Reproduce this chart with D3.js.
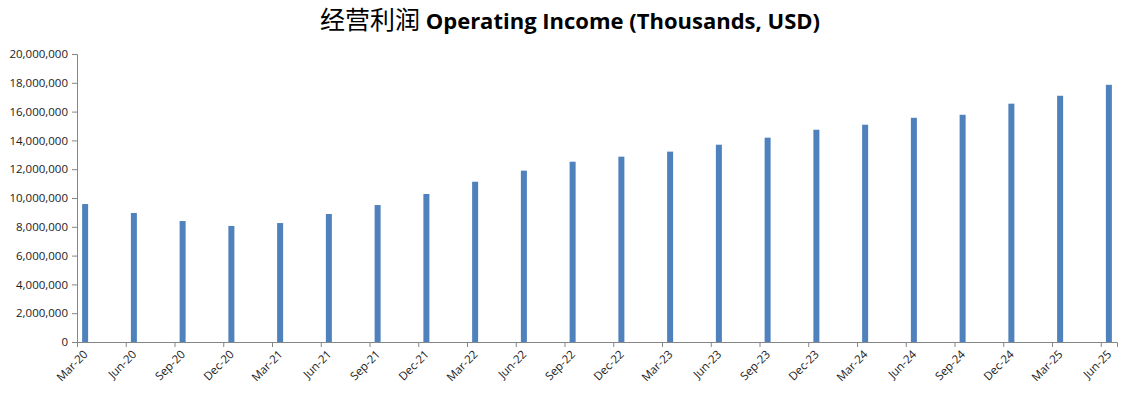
<!DOCTYPE html>
<html>
<head>
<meta charset="utf-8">
<script src="https://cdn.jsdelivr.net/npm/d3@7"></script>
<style>
  html, body { margin: 0; padding: 0; background: #fff; }
  svg { display: block; }
</style>
</head>
<body>
<script>
// Data (Thousands, USD)
const categories = ["Mar-20","Jun-20","Sep-20","Dec-20","Mar-21","Jun-21","Sep-21","Dec-21",
  "Mar-22","Jun-22","Sep-22","Dec-22","Mar-23","Jun-23","Sep-23","Dec-23",
  "Mar-24","Jun-24","Sep-24","Dec-24","Mar-25","Jun-25"];
const operatingIncome = [9580000, 8960000, 8400000, 8060000, 8260000, 8890000, 9510000, 10280000,
  11130000, 11900000, 12520000, 12870000, 13220000, 13700000, 14190000, 14740000,
  15090000, 15570000, 15780000, 16550000, 17100000, 17860000];
const yTicks = [0, 2000000, 4000000, 6000000, 8000000, 10000000, 12000000, 14000000, 16000000, 18000000, 20000000];
const titleCN = "经营利润";
const titleEN = "Operating Income (Thousands, USD)";

const W = 1131, H = 393;
const margin = { left: 77, right: 14, top: 54, bottom: 51 };
const svg = d3.select("body").append("svg").attr("width", W).attr("height", H);

// Date-style axis: each quarter spans 3 month slots; a bar sits in the middle of its month slot
const monthsPerCat = 3;
const nMonths = (categories.length - 1) * monthsPerCat + 1;
const x = d3.scaleLinear().domain([0, nMonths]).range([margin.left, W - margin.right]);
const y = d3.scaleLinear().domain([0, 20000000]).range([H - margin.bottom, margin.top]);

const axisColor = "#868686";
const fontFam = "'Open Sans', 'Liberation Sans', Arial, sans-serif";

// Y axis
const yAxis = d3.axisLeft(y).tickValues(yTicks).tickSize(5).tickPadding(4)
  .tickFormat(d3.format(","));
const gy = svg.append("g").attr("transform", `translate(${margin.left},0)`).call(yAxis);
gy.select(".domain").attr("stroke", axisColor);
gy.selectAll(".tick line").attr("stroke", axisColor);
gy.selectAll(".tick text").attr("fill", "#1a1a1a").style("font-family", fontFam).style("font-size", "11.5px");

// Bars
const barW = 6;
svg.append("g").selectAll("rect").data(operatingIncome).join("rect")
  .attr("x", (d, i) => x(i * monthsPerCat + 0.5) - barW / 2)
  .attr("width", barW)
  .attr("y", d => y(d))
  .attr("height", d => y(0) - y(d))
  .attr("fill", "#4f81bd");

// X axis
const xAxis = d3.axisBottom(x)
  .tickValues(categories.map((c, i) => i * monthsPerCat))
  .tickFormat((d, i) => categories[i])
  .tickSize(5).tickPadding(2);
const gx = svg.append("g").attr("transform", `translate(0,${y(0)})`).call(xAxis);
gx.select(".domain").attr("stroke", axisColor);
gx.selectAll(".tick line").attr("stroke", axisColor);
gx.selectAll(".tick text")
  .attr("fill", "#1a1a1a")
  .style("font-family", fontFam).style("font-size", "11.5px")
  .attr("text-anchor", "end")
  .attr("y", 0).attr("dy", "0")
  .attr("transform", "translate(11,13) rotate(-45)");

// Title
const title = svg.append("text")
  .attr("x", 570).attr("y", 29)
  .attr("text-anchor", "middle")
  .attr("fill", "#000");
title.append("tspan").text(titleCN)
  .style("font-family", "'Noto Sans CJK SC', sans-serif").style("font-size", "25px").style("font-weight", "normal");
title.append("tspan").text(" " + titleEN)
  .style("font-family", fontFam).style("font-size", "22px").style("font-weight", "bold");
</script>
</body>
</html>
